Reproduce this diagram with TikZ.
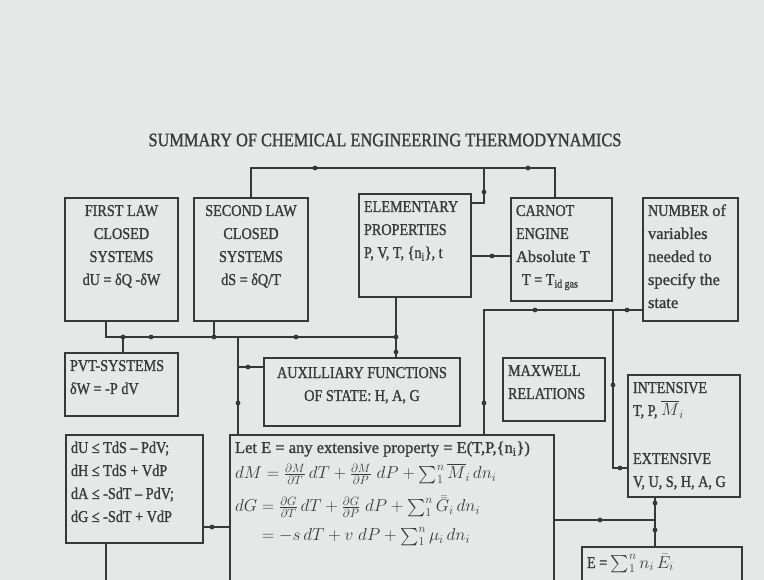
\documentclass[tikz,border=0pt]{standalone}
\usepackage{amsmath}
\usepackage{fontspec}
\setmainfont{Liberation Serif}[FakeStretch=0.86, FakeBold=1.2]
\newfontfamily\largo{Liberation Serif}[FakeBold=1.2]
\usetikzlibrary{arrows.meta, positioning, calc}
\definecolor{sfondo}{HTML}{E6E8E8}
\definecolor{linea}{HTML}{383838}
\definecolor{testo}{HTML}{3A3A3A}
\tikzset{
    box/.style={draw=linea, line width=2pt, anchor=north west, inner sep=5pt,
        text height=13pt, text=testo, font=\fontsize{16.5}{23}\selectfont},
    conn/.style={draw=linea, line width=2pt},
}

\begin{document}
\begin{tikzpicture}[x=1pt, y=-1pt]
    % Sfondo
    \useasboundingbox (0,0) rectangle (764,580);
    \fill[sfondo] (0,0) rectangle (764,580);
    \clip (0,0) rectangle (764,580);

    % Titolo
    \node[text=testo, font=\fontsize{19}{23}\selectfont] (title) at (385,140)
        {SUMMARY OF CHEMICAL ENGINEERING THERMODYNAMICS};

    % Prima riga di box
    \node[box, text width=103pt, text depth=100pt, align=flush center] (first) at (64,197)
        {FIRST LAW\\ CLOSED\\ SYSTEMS\\ dU = δQ -δW};
    \node[box, text width=104pt, text depth=100pt, align=flush center] (second) at (193,197)
        {SECOND LAW\\ CLOSED\\ SYSTEMS\\ dS = δQ/T};
    \node[box, text width=102pt, text depth=80pt, align=flush left] (elem) at (358,193)
        {ELEMENTARY\\ PROPERTIES\\ P, V, T, \{n\textsubscript{i}\}, t};
    \node[box, text width=91pt, text depth=80pt, align=flush left] (carnot) at (510,197)
        {CARNOT\\ ENGINE\\ {\largo Absolute T}\\ \hspace*{6pt}T = T\textsubscript{id gas}};
    \node[box, text width=85pt, text depth=100pt, align=flush left] (number) at (642,197)
        {NUMBER {\largo of}\\ \largo variables\\ needed to\\ specify the\\ state};

    % Box centrali
    \node[box, text width=103pt, text depth=40pt, align=flush left] (pvt) at (64,352)
        {PVT-SYSTEMS\\ δW = -P dV};
    \node[box, text width=186pt, text depth=39pt, inner ysep=9pt, text height=11pt, align=flush center] (aux) at (263,357)
        {AUXILLIARY FUNCTIONS\\ OF STATE: H, A, G};
    \node[box, text width=92pt, text depth=40pt, align=flush left] (maxwell) at (502,357)
        {MAXWELL\\ RELATIONS};
    \node[box, text width=102pt, text depth=99pt, align=flush left] (intens) at (627,374)
        {INTENSIVE\\ T, P, $\overline{M}_i$\\[25pt] EXTENSIVE\\ V, U, S, H, A, G};

    % Box in basso
    \node[box, text width=127pt, text depth=85pt, align=flush left] (ineq) at (65,434)
        {dU ≤ TdS – PdV;\\ dH ≤ TdS + VdP\\ dA ≤ -SdT – PdV;\\ dG ≤ -SdT + VdP};
    \node[box, text width=314pt, text depth=163pt, align=flush left] (lete) at (229,434)
        {{\largo Let E = any extensive property = E(T,P,\{n\textsubscript{i}\})}\\[3pt]
        $dM = \frac{\partial M}{\partial T}\,dT + \frac{\partial M}{\partial P}\;dP + \sum_1^n \overline{M}_i\,dn_i$\\[10pt]
        $dG = \frac{\partial G}{\partial T}\,dT + \frac{\partial G}{\partial P}\;dP + \sum_1^n \bar{\bar{G}}_i\,dn_i$\\[6pt]
        $\phantom{dG}= -s\,dT + v\;dP + \sum_1^n \mu_i\,dn_i$};
    \node[box, text width=150pt, text depth=51pt, text height=16pt, align=flush left] (ebox) at (581,546)
        {E = $\sum_1^n n_i\,\bar{E}_i$};

    % Punti di giunzione
    \coordinate (tb) at (484,168);
    \coordinate (ce) at (510,256);
    \coordinate (bl) at (106,337);
    \coordinate (bs) at (214,337);
    \coordinate (bp) at (123,337);
    \coordinate (bv) at (238,337);
    \coordinate (br) at (396,337);
    \coordinate (ba) at (238,367);
    \coordinate (nl) at (484,310);
    \coordinate (nv) at (613,310);
    \coordinate (ni) at (613,468);
    \coordinate (il) at (212,527);
    \coordinate (ej) at (655,520);
    \coordinate (id) at (106,590);

    % Collegamenti in alto
    \draw[conn] (second.north) |- (tb) -| ([xshift=-7pt]carnot.north);
    \draw[conn] (tb) |- ([yshift=-10pt]elem.north east);
    \draw[conn] (ce) -- (ce -| elem.east);

    % Linea orizzontale sotto la prima riga
    \draw[conn] (bl |- first.south) -- (bl) -- (br);
    \draw[conn] (bs |- second.south) -- (bs);
    \draw[conn] (bp) -- (bp |- pvt.north);
    \draw[conn] (br |- elem.south) -- (br |- aux.north);
    \draw[conn] (bv) -- (bv |- lete.north);
    \draw[conn] (ba -| aux.west) -- (ba);

    % Collegamenti a destra
    \draw[conn] (nl -| number.west) -- (nl) -- (nl |- lete.north);
    \draw[conn] (nv) -- (ni) -- (ni -| intens.west);
    \draw[conn] (ej -| lete.east) -- (ej);
    \draw[conn] (ej |- intens.south) -- (ej |- ebox.north);

    % Collegamenti in basso a sinistra
    \draw[conn] (il -| ineq.east) -- (il -| lete.west);
    \draw[conn, -{Latex[length=5pt]}] (id |- ineq.south) -- (id);

    % Pallini sulle linee
    \foreach \p in {(315,168), (528,168), (484,192), (492,256), (123,337), (151,337),
        (214,337), (296,337), (396,337), (396,352), (248,367), (238,403), (535,310),
        (627,310), (484,403), (613,385), (620,468), (212,527), (600,520), (655,503),
        (655,530)} {
        \fill[linea] \p circle (2.4pt);
    }

\end{tikzpicture}
\end{document}
